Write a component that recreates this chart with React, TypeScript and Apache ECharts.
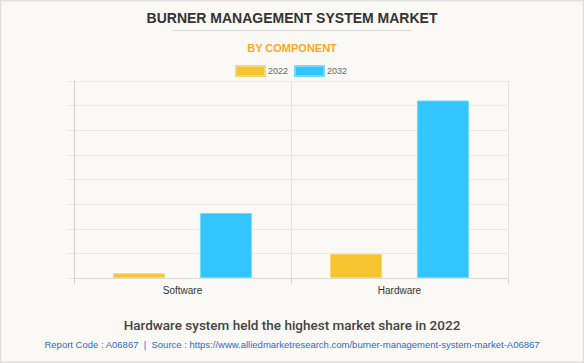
import React, { useEffect, useRef } from "react";
import * as echarts from "echarts";

const categories = ["Software", "Hardware"];
const seriesNames = ["2022", "2032"];
const values2022 = [19, 98];
const values2032 = [264, 721];

const titleText = "BURNER MANAGEMENT SYSTEM MARKET";
const subtitleText = "BY COMPONENT";
const captionText = "Hardware system held the highest market share in 2022";
const sourceText =
  "Report Code : A06867  |  Source : https://www.alliedmarketresearch.com/burner-management-system-market-A06867";

export default function App() {
  const ref = useRef<HTMLDivElement>(null);
  useEffect(() => {
    if (!ref.current) return;
    const chart = echarts.init(ref.current, undefined, { renderer: "svg" });
    chart.setOption({
      animation: false,
      backgroundColor: "#FAF9F5",
      legend: {
        data: seriesNames,
        left: 235,
        top: 65,
        padding: 0,
        itemWidth: 29,
        itemHeight: 10,
        itemGap: 6,
        icon: "rect",
        textStyle: { fontSize: 9, color: "#666", fontFamily: "Arial, Liberation Sans", padding: [0, 0, 0, -2] },
      },
      grid: { left: 74, right: 76, top: 81, bottom: 85, containLabel: false },
      xAxis: {
        type: "category",
        data: categories,
        axisLine: { show: true, lineStyle: { color: "#dcdcdc", width: 1 } },
        axisTick: { show: true, length: 6, lineStyle: { color: "#d4d4d4" } },
        splitLine: { show: true, lineStyle: { color: "#e2e2e2", width: 1 } },
        axisLabel: { fontSize: 10, color: "#333", margin: 7, fontFamily: "Arial, Liberation Sans" },
      },
      yAxis: {
        type: "value",
        min: 0,
        max: 800,
        interval: 100,
        axisLabel: { show: false },
        axisLine: { show: true, lineStyle: { color: "#d4d4d4" } },
        axisTick: { show: true, length: 7, lineStyle: { color: "#e8e8e8" } },
        splitLine: { show: true, lineStyle: { color: "#e8e8e8", width: 1 } },
      },
      series: [
        {
          name: seriesNames[0],
          type: "bar",
          data: values2022,
          barWidth: 52,
          barGap: "67%",
          itemStyle: { color: "#F5C52F", borderColor: "#F8D772", borderWidth: 1 },
        },
        {
          name: seriesNames[1],
          type: "bar",
          data: values2032,
          barWidth: 52,
          barGap: "67%",
          itemStyle: { color: "#33C5FE", borderColor: "#74D8FF", borderWidth: 1 },
        },
      ],
      graphic: [
        {
          type: "rect",
          shape: { x: 0.5, y: 0.5, width: 583, height: 361.5 },
          style: { fill: "none", stroke: "#dedede", lineWidth: 1.5 },
          silent: true,
        },
        {
          type: "text",
          x: 292,
          y: 17.5,
          style: {
            text: titleText,
            fontFamily: "Arial, Liberation Sans",
            fontWeight: "bold",
            fontSize: 14,
            fill: "#333",
            align: "center",
            verticalAlign: "middle",
          },
        },
        {
          type: "line",
          shape: { x1: 172, y1: 30.5, x2: 411.5, y2: 30.5 },
          style: { stroke: "#dddddd", lineWidth: 1 },
        },
        {
          type: "text",
          x: 292,
          y: 48,
          style: {
            text: subtitleText,
            fontFamily: "Arial, Liberation Sans",
            fontWeight: "bold",
            fontSize: 11,
            fill: "#F9A825",
            align: "center",
            verticalAlign: "middle",
          },
        },
        {
          type: "text",
          x: 292,
          y: 325,
          style: {
            text: captionText,
            fontFamily: "Roboto",
            fontWeight: 500,
            fontSize: 13.5,
            fill: "#444",
            align: "center",
            verticalAlign: "middle",
          },
        },
        {
          type: "text",
          x: 292,
          y: 344,
          style: {
            text: sourceText,
            fontFamily: "Arial, Liberation Sans",
            fontSize: 9.5,
            fill: "#2F6BC0",
            align: "center",
            verticalAlign: "middle",
          },
        },
      ],
    });
    return () => chart.dispose();
  }, []);
  return (
    <div
      ref={ref}
      style={{ position: "fixed", left: 0, top: 0, width: 584, height: 363 }}
    />
  );
}
